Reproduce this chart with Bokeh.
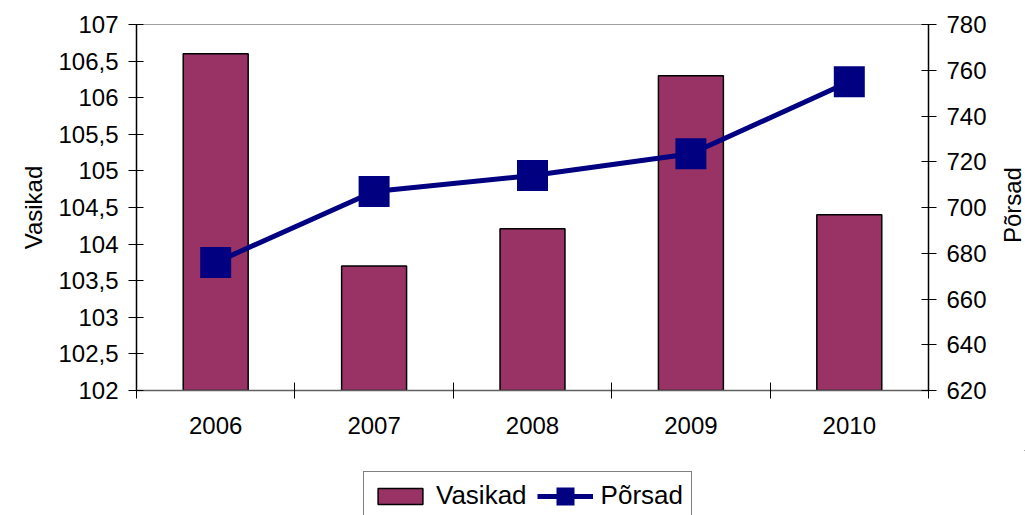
import math
from bokeh.plotting import figure
from bokeh.layouts import column, row
from bokeh.models import (Range1d, LinearAxis, FixedTicker, Legend, LegendItem,
                          ColumnDataSource, Label)
from bokeh.embed import file_html
from bokeh.resources import INLINE

# ---- data ----
years = ["2006", "2007", "2008", "2009", "2010"]
vasikad = [106.6, 103.7, 104.21, 106.3, 104.4]
porsad = [676, 707, 714, 723.5, 755]

left_ticks = [102, 102.5, 103, 103.5, 104, 104.5, 105, 105.5, 106, 106.5, 107]
left_labels = ["102", "102,5", "103", "103,5", "104", "104,5", "105", "105,5", "106", "106,5", "107"]
right_ticks = [620, 640, 660, 680, 700, 720, 740, 760, 780]
right_labels = [str(t) for t in right_ticks]

FONT = "Liberation Sans"
FS = "24px"
BAR_STYLE = dict(fill_color="#993366", line_color="black", line_width=1.5)
LINE_STYLE = dict(line_color="#000080", line_width=5)
MARK_STYLE = dict(marker="square", size=21, fill_color="#000080", line_color="#000080",
                  line_width=10, line_join="miter")

xc = [i + 0.5 for i in range(len(years))]
src = ColumnDataSource(dict(x=xc, v=vasikad, p=porsad))

# ---------------- main chart ----------------
p = figure(frame_width=792, frame_height=366,
           min_border_left=136, min_border_right=62, min_border_top=24, min_border_bottom=60,
           x_range=Range1d(0, len(years)), y_range=Range1d(102, 107),
           output_backend="svg", toolbar_location=None, tools="")
p.extra_y_ranges = {"right": Range1d(620, 780)}
p.xgrid.visible = False
p.ygrid.visible = False
p.outline_line_color = "#a0a0a0"
p.outline_line_width = 1

p.vbar(x="x", top="v", bottom=102, width=0.41, source=src, **BAR_STYLE)
p.line(x="x", y="p", source=src, y_range_name="right", **LINE_STYLE)
p.scatter(x="x", y="p", source=src, y_range_name="right", **MARK_STYLE)

xa = p.xaxis[0]
xa.ticker = FixedTicker(ticks=xc, minor_ticks=list(range(len(years) + 1)))
xa.major_label_overrides = {x: y for x, y in zip(xc, years)}
xa.major_tick_in = 0
xa.major_tick_out = 0
xa.minor_tick_in = 8
xa.minor_tick_out = 8
xa.minor_tick_line_color = "black"
xa.axis_line_color = "#606060"
xa.axis_line_width = 1.5
xa.major_label_text_font = FONT
xa.major_label_text_font_size = FS
xa.major_label_text_color = "black"
xa.major_label_standoff = 18

ya = p.yaxis[0]
ya.ticker = FixedTicker(ticks=left_ticks, minor_ticks=[])
ya.major_label_overrides = {t: l for t, l in zip(left_ticks, left_labels)}
ya.axis_label = "Vasikad"

ra = LinearAxis(y_range_name="right")
ra.ticker = FixedTicker(ticks=right_ticks, minor_ticks=[])
ra.major_label_overrides = {t: l for t, l in zip(right_ticks, right_labels)}
p.add_layout(ra, "right")

for a in (ya, ra):
    a.major_tick_in = 7
    a.major_tick_out = 8
    a.minor_tick_in = 0
    a.minor_tick_out = 0
    a.major_tick_line_color = "black"
    a.axis_line_color = "black"
    a.axis_line_width = 1.5
    a.major_label_text_font = FONT
    a.major_label_text_font_size = FS
    a.major_label_text_color = "black"
    a.major_label_standoff = 10
    a.axis_label_text_font = FONT
    a.axis_label_text_font_size = FS
    a.axis_label_text_font_style = "normal"
    a.axis_label_text_color = "black"
    a.axis_label_standoff = 8

# ---------------- right axis title (reads bottom-to-top) ----------------
rt = figure(width=35, height=450, min_border=0, x_range=Range1d(0, 35), y_range=Range1d(0, 450),
            output_backend="svg", toolbar_location=None, tools="")
rt.axis.visible = False
rt.grid.visible = False
rt.outline_line_color = None
rt.add_layout(Label(x=22, y=228, text="Põrsad", angle=math.pi / 2,
                    text_align="center", text_baseline="middle",
                    text_font=FONT, text_font_size=FS, text_color="black"))

# ---------------- legend strip ----------------
lg = figure(width=1025, height=65, min_border=0, x_range=Range1d(-20, -19), y_range=Range1d(-20, -19),
            output_backend="svg", toolbar_location=None, tools="")
lg.axis.visible = False
lg.grid.visible = False
lg.outline_line_color = None
lb = lg.vbar(x="x", top="v", bottom=102, width=0.41, source=src, **BAR_STYLE)
ll = lg.line(x="x", y="p", source=src, **LINE_STYLE)
ls = lg.scatter(x="x", y="p", source=src, **MARK_STYLE)
legend = Legend(items=[LegendItem(label="Vasikad", renderers=[lb]),
                       LegendItem(label="Põrsad", renderers=[ll, ls])],
                location=(363, -5), orientation="horizontal",
                border_line_color="black", border_line_width=1,
                background_fill_color="white", background_fill_alpha=1,
                label_text_font=FONT, label_text_font_size="26px", label_text_color="black",
                glyph_width=56, glyph_height=20, label_standoff=8,
                spacing=10, padding=8, margin=0)
lg.add_layout(legend, "center")

layout = column(row(p, rt, spacing=0), lg, spacing=0)
open("out.html", "w").write(file_html(layout, INLINE))
